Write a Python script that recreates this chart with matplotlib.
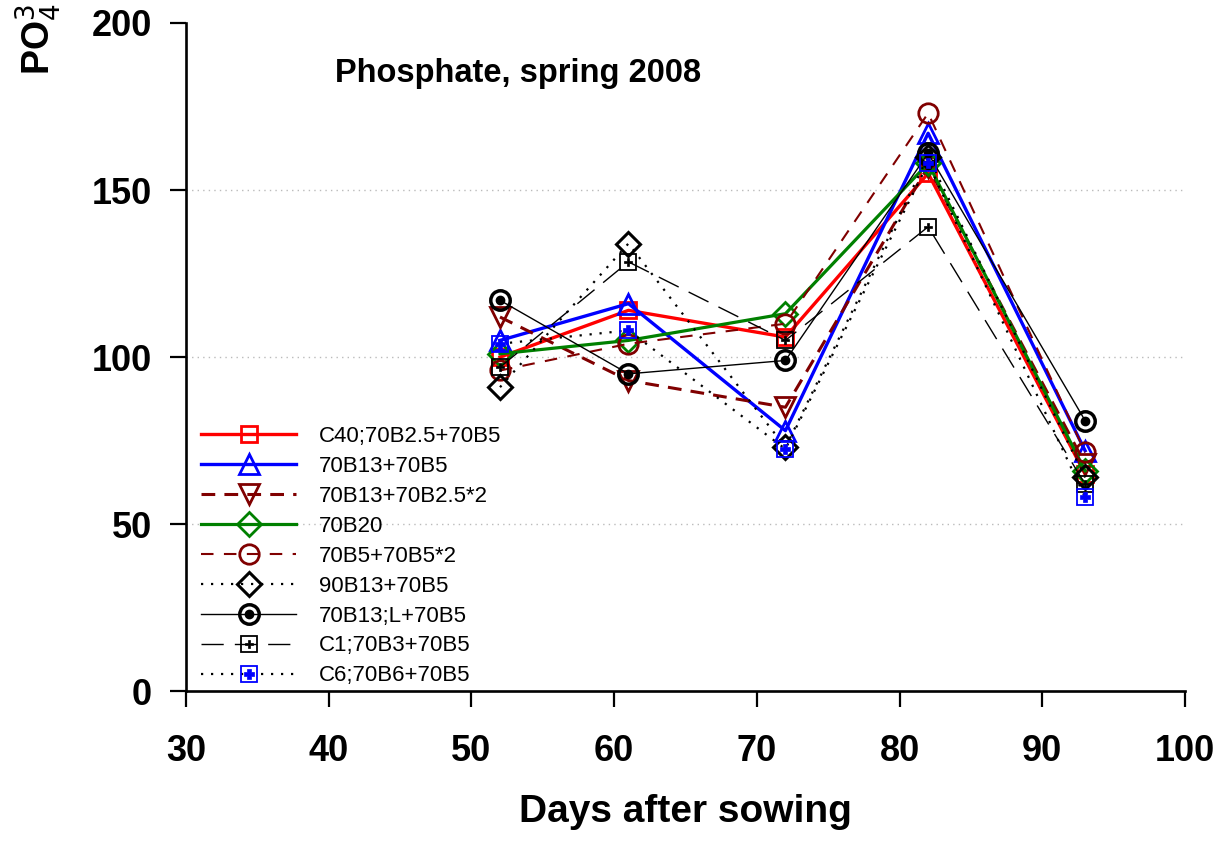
import matplotlib
matplotlib.use("Agg")
import matplotlib.pyplot as plt
from matplotlib.legend_handler import HandlerTuple

plt.rcParams['font.family'] = ['Liberation Sans', 'DejaVu Sans']

days = [52, 61, 72, 82, 93]
c40_b25_b5 = [100, 114, 106, 155, 65]
b13_b5 = [105, 116, 78, 167, 72]
b13_b25x2 = [112, 93, 85, 157, 68]
b20 = [101, 105, 113, 158, 66]
b5_b5x2 = [96, 104, 110, 173, 71.5]
b90_13_b5 = [91, 134, 73, 160, 64]
b13L_b5 = [117, 95, 99, 161, 81]
c1_b3_b5 = [97, 128.5, 105, 139, 62]
c6_b6_b5 = [104, 108, 72.5, 158, 58]

labels = ["C40;70B2.5+70B5", "70B13+70B5", "70B13+70B2.5*2", "70B20",
          "70B5+70B5*2", "90B13+70B5", "70B13;L+70B5", "C1;70B3+70B5",
          "C6;70B6+70B5"]
xticks = [30, 40, 50, 60, 70, 80, 90, 100]
yticks = [0, 50, 100, 150, 200]
gridlines = [50, 100, 150]

fig = plt.figure(figsize=(12.28, 8.41), dpi=100)
ax = fig.add_axes([0.1515, 0.178, 0.8135, 0.7947])

darkred = '#800000'
handles = []

h, = ax.plot(days, c40_b25_b5, color='red', lw=2.4, marker='s', ms=12, mfc='none', mec='red', mew=2)
handles.append(h)
h, = ax.plot(days, b13_b5, color='blue', lw=2.4, marker='^', ms=14, mfc='none', mec='blue', mew=2)
handles.append(h)
h, = ax.plot(days, b13_b25x2, color=darkred, lw=2.2, ls=(0, (4.5, 3)), marker='v', ms=14, mfc='none', mec=darkred, mew=2)
handles.append(h)
h, = ax.plot(days, b20, color='green', lw=2.3, marker='D', ms=12, mfc='none', mec='green', mew=2)
handles.append(h)
h, = ax.plot(days, b5_b5x2, color=darkred, lw=1.5, ls=(0, (6, 5)), marker='o', ms=14, mfc='none', mec=darkred, mew=2)
handles.append(h)
h, = ax.plot(days, b90_13_b5, color='black', lw=1.6, ls=(0, (1, 3.5)), marker='D', ms=12, mfc='none', mec='black', mew=2.2)
handles.append(h)
h1, = ax.plot(days, b13L_b5, color='black', lw=1, marker='o', ms=14, mfc='none', mec='black', mew=2.5)
h2, = ax.plot(days, b13L_b5, ls='none', marker='o', ms=6, mfc='black', mec='black')
handles.append((h1, h2))
h1, = ax.plot(days, c1_b3_b5, color='black', lw=1, ls=(0, (16, 8)), marker='s', ms=12, mfc='none', mec='black', mew=1.3)
h2, = ax.plot(days, c1_b3_b5, ls='none', marker='P', ms=6, mfc='black', mec='black', mew=0.5)
handles.append((h1, h2))
h1, = ax.plot(days, c6_b6_b5, color='black', lw=1.6, ls=(0, (1, 3.5)), marker='s', ms=12, mfc='none', mec='blue', mew=1.3)
h2, = ax.plot(days, c6_b6_b5, ls='none', marker='P', ms=7.5, mfc='blue', mec='blue', mew=0.5)
handles.append((h1, h2))

for g in gridlines:
    ax.axhline(g, color='#bbbbbb', ls=(0, (1, 3)), lw=1, zorder=0)

ax.set_xlim(30, 100)
ax.set_ylim(0, 200)
ax.set_xticks(xticks)
ax.set_yticks(yticks)
for s in ['top', 'right']:
    ax.spines[s].set_visible(False)
for s in ['left', 'bottom']:
    ax.spines[s].set_linewidth(1.9)
ax.tick_params(axis='both', direction='out', length=11.5, width=1.6, labelsize=26)
ax.tick_params(axis='x', pad=19)
ax.tick_params(axis='y', pad=13)
for lab in ax.get_xticklabels() + ax.get_yticklabels():
    lab.set_fontweight('bold')

fig.text(0.558, 0.0226, "Days after sowing", fontsize=28, fontweight='bold', ha='center', va='baseline')
fig.text(0.031, 0.911, r"PO$_4^{3-}$ (mg kg$^{-1}$)", rotation=90, ha='center', va='bottom',
         fontsize=27, fontweight='bold')
ax.text(0.149, 0.925, "Phosphate, spring 2008", transform=ax.transAxes, fontsize=23.5,
        fontweight='bold', va='center', ha='left')

leg = ax.legend(handles, labels, loc='upper left', bbox_to_anchor=(0.006, 0.41), frameon=False,
                fontsize=16, handlelength=4.3, handletextpad=1.0, labelspacing=0.40,
                borderaxespad=0, handler_map={tuple: HandlerTuple(ndivide=1, pad=0)})

fig.savefig("out.png", dpi=100)
